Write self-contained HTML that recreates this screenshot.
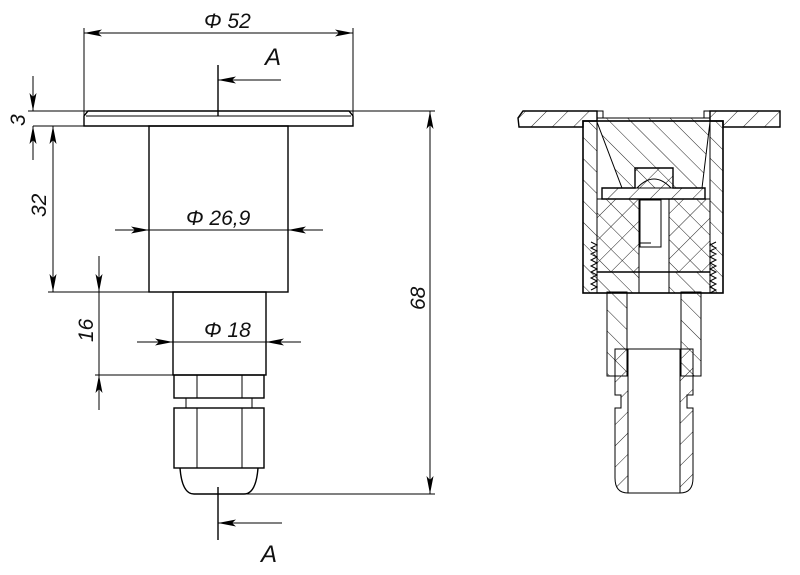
<!DOCTYPE html>
<html><head><meta charset="utf-8"><style>html,body{margin:0;padding:0;background:#fff}svg{display:block}text{font-family:"Liberation Sans",sans-serif;font-style:italic;fill:#111}</style></head><body>
<svg width="800" height="575" viewBox="0 0 800 575" xmlns="http://www.w3.org/2000/svg">
<defs>
<marker id="a" viewBox="0 0 18 7" refX="18" refY="3.5" markerWidth="18" markerHeight="7" markerUnits="userSpaceOnUse" orient="auto-start-reverse"><path d="M0,0 L18,3.5 L0,7 L4,3.5 z" fill="#000"/></marker>
<pattern id="hf" width="15" height="15" patternUnits="userSpaceOnUse" patternTransform="rotate(-45)"><line x1="0" y1="0" x2="0" y2="15" stroke="#222" stroke-width="1"/></pattern>
<pattern id="hb" width="15" height="15" patternUnits="userSpaceOnUse" patternTransform="rotate(45)"><line x1="0" y1="0" x2="0" y2="15" stroke="#222" stroke-width="1"/></pattern>
<pattern id="hx" width="16" height="16" patternUnits="userSpaceOnUse" patternTransform="rotate(45)"><line x1="0" y1="0" x2="0" y2="16" stroke="#222"/><line x1="0" y1="0" x2="16" y2="0" stroke="#222"/></pattern>
</defs>
<g stroke="#000" fill="none" stroke-width="1">
<line x1="84" y1="28" x2="84" y2="116"/><line x1="353" y1="28" x2="353" y2="116"/>
<line x1="84" y1="33" x2="353" y2="33" marker-start="url(#a)" marker-end="url(#a)"/>
<line x1="218" y1="65" x2="218" y2="116" stroke-width="1.4"/>
<line x1="281" y1="80" x2="218" y2="80" marker-end="url(#a)"/>
<line x1="28" y1="111" x2="400" y2="111"/>
<path d="M84,116 L84,126 L353,126 L353,116 L349,111 L88,111 Z" stroke-width="1.4"/>
<line x1="86" y1="116" x2="351" y2="116"/>
<line x1="33" y1="76" x2="33" y2="111" marker-end="url(#a)"/>
<line x1="33" y1="160" x2="33" y2="126" marker-end="url(#a)"/>
<line x1="33" y1="126" x2="84" y2="126"/>
<rect x="149" y="126" width="139" height="166" stroke-width="1.4"/>
<line x1="53" y1="126" x2="53" y2="292" marker-start="url(#a)" marker-end="url(#a)"/>
<line x1="48" y1="292" x2="149" y2="292"/>
<line x1="115" y1="230" x2="149" y2="230" marker-end="url(#a)"/>
<line x1="149" y1="230" x2="288" y2="230"/>
<line x1="323" y1="230" x2="288" y2="230" marker-end="url(#a)"/>
<rect x="173" y="292" width="93" height="83" stroke-width="1.4"/>
<line x1="137" y1="342" x2="173" y2="342" marker-end="url(#a)"/>
<line x1="173" y1="342" x2="266" y2="342"/>
<line x1="301" y1="342" x2="266" y2="342" marker-end="url(#a)"/>
<line x1="99" y1="256" x2="99" y2="292" marker-end="url(#a)"/>
<line x1="99" y1="410" x2="99" y2="375" marker-end="url(#a)"/>
<line x1="99" y1="292" x2="99" y2="375"/>
<line x1="95" y1="375" x2="173" y2="375"/>
<rect x="174" y="375" width="90" height="23" stroke-width="1.4"/>
<line x1="197" y1="375" x2="197" y2="398"/><line x1="242" y1="375" x2="242" y2="398"/>
<rect x="186" y="398" width="66" height="10"/>
<rect x="174" y="408" width="90" height="60" stroke-width="1.4"/>
<line x1="197" y1="408" x2="197" y2="468"/><line x1="242" y1="408" x2="242" y2="468"/>
<path d="M180,468 Q182,494 194,494 L244,494 Q256,494 258,468" stroke-width="1.4"/>
<line x1="244" y1="494" x2="435" y2="494"/>
<line x1="353" y1="111" x2="435" y2="111"/>
<line x1="430" y1="111" x2="430" y2="494" marker-start="url(#a)" marker-end="url(#a)"/>
<line x1="218" y1="487" x2="218" y2="540" stroke-width="1.4"/>
<line x1="282" y1="523" x2="218" y2="523" marker-end="url(#a)"/>

<path d="M523,111 L597,111 L597,121 L583,121 L583,127 L519,127 L518,118 Z" fill="url(#hb)" stroke-width="1.4"/>
<path d="M710,111 L780,111 L780,127 L723,127 L723,121 L710,121 Z" fill="url(#hb)" stroke-width="1.4"/>
<path d="M597,111 L603,111 L603,118 L704,118 L704,111 L710,111" />
<rect x="583" y="121" width="14" height="172" fill="url(#hf)"/>
<rect x="710" y="121" width="13" height="172" fill="url(#hf)"/>
<path d="M597,118 L710,118 L710,122 L702,188 L622,188 L597,122 Z" fill="url(#hf)"/>
<path d="M602,188 L635,188 L635,168 L673,168 L673,188 L705,188 L705,199 L602,199 Z" fill="url(#hb)" stroke-width="1.4"/>
<path d="M637,188 Q654,170 671,188" />
<rect x="597" y="199" width="42" height="73" fill="url(#hx)"/>
<rect x="669" y="199" width="41" height="73" fill="url(#hx)"/>
<rect x="640" y="200" width="21" height="47" fill="#fff"/>
<line x1="640" y1="243" x2="651" y2="243"/>
<rect x="597" y="272" width="42" height="21" fill="url(#hf)"/>
<rect x="669" y="272" width="41" height="21" fill="url(#hf)"/>
<line x1="597" y1="272" x2="710" y2="272" stroke-width="1.6"/>
<path d="M591,242 l6,3 l-6,3 l6,3 l-6,3 l6,3 l-6,3 l6,3 l-6,3 l6,3 l-6,3 l6,3 l-6,3 l6,3 l-6,3 l6,3 l-6,3" />
<path d="M716,242 l-6,3 l6,3 l-6,3 l6,3 l-6,3 l6,3 l-6,3 l6,3 l-6,3 l6,3 l-6,3 l6,3 l-6,3 l6,3 l-6,3 l6,3 l-6,3" />
<rect x="583" y="121" width="140" height="172" stroke-width="1.6"/>
<rect x="607" y="292" width="20" height="84" fill="url(#hf)"/>
<rect x="681" y="292" width="20" height="84" fill="url(#hf)"/>
<path d="M621,349 L615,349 L615,395 L621,395 L621,408 L615,408 L615,478 Q615,493 628,493 L628,349 Z" fill="url(#hb)"/>
<path d="M686,349 L693,349 L693,395 L687,395 L687,408 L693,408 L693,478 Q693,493 680,493 L680,349 Z" fill="url(#hb)"/>
<rect x="628" y="349" width="52" height="144" fill="#fff"/>
<line x1="628" y1="349" x2="680" y2="349"/>
<line x1="628" y1="493" x2="680" y2="493"/>
</g>
<g font-size="21">
<text x="204" y="28">Φ 52</text>
<text x="265" y="65" font-size="24">A</text>
<text x="186" y="225">Φ 26,9</text>
<text x="204" y="337">Φ 18</text>
<text x="261" y="562" font-size="24">A</text>
<text transform="translate(25,126) rotate(-90)">3</text>
<text transform="translate(46,217) rotate(-90)">32</text>
<text transform="translate(93,342) rotate(-90)">16</text>
<text transform="translate(425,310) rotate(-90)">68</text>
</g>
</svg>
</body></html>
